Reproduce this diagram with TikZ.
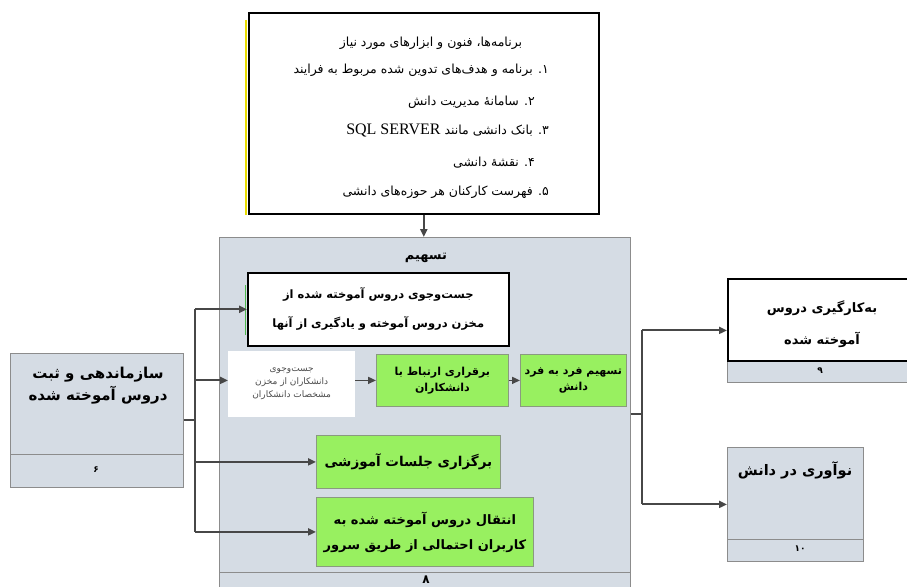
\documentclass[tikz,border=0pt]{standalone}
\usepackage{fontspec}
\usetikzlibrary{arrows.meta}
\TeXXeTstate=1
\newfontfamily\fa[Script=Arabic]{DejaVu Sans}
\newfontfamily\latserif{Liberation Serif}
\newcommand\fatext[1]{\beginR #1\endR}
\definecolor{panel}{HTML}{D5DCE4}
\definecolor{panelrule}{HTML}{8C8C8C}
\definecolor{leaf}{HTML}{98F060}
\definecolor{leafrule}{HTML}{8A9A80}
\definecolor{wire}{HTML}{474747}
\tikzset{
  panelbox/.style={draw=panelrule, fill=panel, line width=0.8pt, rectangle, inner sep=0pt, anchor=north west},
  inkbox/.style={draw=black, fill=white, line width=1.6pt, rectangle, inner sep=0pt, anchor=north west},
  leafbox/.style={draw=leafrule, fill=leaf, line width=0.8pt, rectangle, inner sep=0pt, anchor=north west,
                  align=center, font=\fa\bfseries\fontsize{11}{16}\selectfont},
  plainbox/.style={fill=white, rectangle, inner sep=0pt, anchor=north west, align=center,
                  text=black!70, font=\fa\fontsize{9}{13}\selectfont},
  listline/.style={anchor=east, inner sep=0pt, font=\fa\fontsize{12.5}{15}\selectfont},
  title/.style={inner sep=0pt, align=center, font=\fa\bfseries\fontsize{15}{22}\selectfont},
  tag/.style={inner sep=0pt, font=\fa\bfseries\fontsize{9}{11}\selectfont},
  wireline/.style={draw=wire, line width=2pt},
  arr/.style={wireline, -{Triangle[length=8pt,width=7pt]}},
}
\begin{document}
\begin{tikzpicture}[x=1pt,y=-1pt]
\useasboundingbox (0,0) rectangle (907,586);
\clip (0,0) rectangle (907,586);

% resources box
\node[inkbox, minimum width=350pt, minimum height=201pt] (res) at (248,12) {};
\draw[yellow!80!olive, line width=1.2pt] (res.north west) ++(-2,8) coordinate (ys) -- (res.south west -| ys);
\node[inner sep=0pt, font=\fa\fontsize{12.5}{15}\selectfont] (r0) at (431,43)
  {\fatext{برنامه‌ها، فنون و ابزارهای مورد نیاز}};
\node[listline] (r1) at (549,70) {\fatext{۱. برنامه و هدف‌های تدوین شده مربوط به فرایند}};
\node[listline] (r2) at (535,102) {\fatext{۲. سامانهٔ مدیریت دانش}};
\node[listline] (r3) at (549,130) {\fatext{۳. بانک دانشی مانند \beginL{\latserif\fontsize{16}{18}\selectfont SQL SERVER}\endL}};
\node[listline] (r4) at (535,163) {\fatext{۴. نقشهٔ دانشی}};
\node[listline] (r5) at (549,192) {\fatext{۵. فهرست کارکنان هر حوزه‌های دانشی}};

% facilitation panel
\node[panelbox, minimum width=411pt, minimum height=363pt] (big) at (219,237) {};
\draw[panelrule, line width=0.8pt] (big.west |- 0,572) coordinate (bsep) -- (bsep -| big.east);
\node[title, font=\fa\bfseries\fontsize{13}{16}\selectfont] (bigt) at (426,258) {\fatext{تسهیم}};
\node[tag, font=\fa\bfseries\fontsize{12}{14}\selectfont] (bign) at (426,580) {\fatext{۸}};

\node[inkbox, minimum width=261pt, minimum height=73pt, align=center,
      font=\fa\bfseries\fontsize{11.5}{29}\selectfont] (srch) at (247,272)
  {\fatext{جست‌وجوی دروس آموخته شده از}\\\fatext{مخزن دروس آموخته و یادگیری از آنها}};
\draw[green!60!black!70, line width=1.2pt] (srch.north west) ++(-1.5,13) coordinate (gs) -- ++(0,50);

\node[plainbox, minimum width=127pt, minimum height=66pt] (find) at (228,351)
  {\fatext{جست‌وجوی}\\\fatext{دانشکاران از مخزن}\\\fatext{مشخصات دانشکاران}};
\node[leafbox, minimum width=132pt, minimum height=52pt] (link) at (376,354)
  {\fatext{برقراری ارتباط با}\\\fatext{دانشکاران}};
\node[leafbox, minimum width=106pt, minimum height=52pt] (p2p) at (520,354)
  {\fatext{تسهیم فرد به فرد}\\\fatext{دانش}};
\node[leafbox, minimum width=184pt, minimum height=53pt,
      font=\fa\bfseries\fontsize{13.5}{18}\selectfont] (meet) at (316,435)
  {\fatext{برگزاری جلسات آموزشی}};
\node[leafbox, minimum width=217pt, minimum height=69pt,
      font=\fa\bfseries\fontsize{13}{25}\selectfont] (xfer) at (316,497)
  {\fatext{انتقال دروس آموخته شده به}\\\fatext{کاربران احتمالی از طریق سرور}};

\draw[arr, line width=1.6pt] (find.east |- link.west) -- (link.west);
\draw[arr, line width=1.6pt] (link.east) -- (p2p.west);

% organising box on the left
\node[panelbox, minimum width=173pt, minimum height=134pt] (org) at (10,353) {};
\draw[panelrule, line width=0.8pt] (org.west |- 0,454) coordinate (osep) -- (osep -| org.east);
\node[title] (orgt) at (98,386) {\fatext{سازماندهی و ثبت}\\\fatext{دروس آموخته شده}};
\node[tag] (orgn) at (96,470) {\fatext{۶}};

% outcome boxes on the right
\node[panelbox, minimum width=186pt, minimum height=104pt] (use) at (727,278) {};
\node[inkbox, minimum width=186pt, minimum height=82pt] (usebox) at (727,278) {};
\node[inner sep=0pt, align=center, font=\fa\bfseries\fontsize{13}{32}\selectfont] (uset) at (822,324)
  {\fatext{به‌کارگیری دروس}\\\fatext{آموخته شده}};
\node[tag] (usen) at (820,371) {\fatext{۹}};

\node[panelbox, minimum width=136pt, minimum height=114pt] (inno) at (727,447) {};
\draw[panelrule, line width=0.8pt] (inno.west |- 0,539) coordinate (isep) -- (isep -| inno.east);
\node[title, font=\fa\bfseries\fontsize{14.5}{20}\selectfont] (innot) at (795,470) {\fatext{نوآوری در دانش}};
\node[tag] (innon) at (800,549) {\fatext{۱۰}};

% connectors
\draw[arr] (res.south) -- (res.south |- big.north);

\coordinate (trunk) at (195,0);
\draw[wireline] (org.east) -- (org.east -| trunk);
\draw[wireline] (trunk |- srch.west) -- (trunk |- xfer.west);
\draw[arr] (trunk |- srch.west) -- (srch.west);
\draw[arr] (trunk |- link.west) -- (find.west |- link.west);
\draw[arr] (trunk |- meet.west) -- (meet.west);
\draw[arr] (trunk |- xfer.west) -- (xfer.west);

\coordinate (fork) at (642,414);
\draw[wireline] (big.east |- fork) -- (fork);
\draw[wireline] (fork |- use.west) -- (fork |- inno.west);
\draw[arr] (fork |- use.west) -- (use.west);
\draw[arr] (fork |- inno.west) -- (inno.west);
\end{tikzpicture}
\end{document}
